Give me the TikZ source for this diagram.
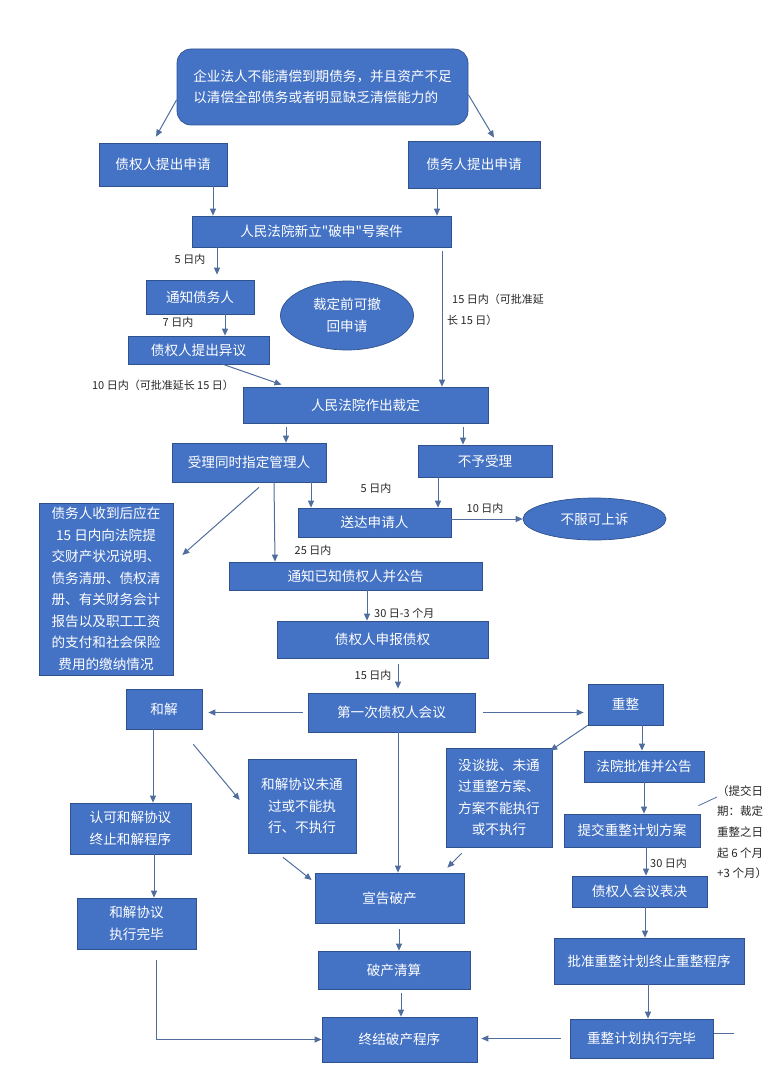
\documentclass[tikz,border=0pt]{standalone}
\usepackage{fontspec}
\setmainfont{Noto Sans CJK SC}
\newfontfamily\cjk{Noto Sans CJK SC}
\usepackage{tikz}
\usetikzlibrary{arrows.meta,shapes.geometric}
\definecolor{boxblue}{HTML}{4472C4}
\definecolor{edge}{HTML}{2F528F}
\definecolor{wire}{HTML}{4F6E9E}
\definecolor{ink}{HTML}{262626}
\tikzset{
  box/.style={draw=edge,fill=boxblue,line width=.7pt,text=white,align=center,inner sep=2pt,font=\cjk\fontsize{13.6}{21.5}\selectfont},
  roundbox/.style={box,rounded corners=14pt},
  oval/.style={box,ellipse,inner sep=0pt},
  dims/.style 2 args={minimum width=#1,minimum height=#2},
  flow/.style={-{Triangle[length=7pt,width=6pt]},draw=wire,line width=1pt},
  link/.style={draw=wire,line width=.8pt},
  note/.style={text=ink,inner sep=0pt,font=\cjk\fontsize{11}{21}\selectfont}
}
\begin{document}
\begin{tikzpicture}[x=1pt,y=-1pt]
  \useasboundingbox (0,0) rectangle (782,1089);
  \node[roundbox,dims={291}{76},align=left] (top) at (322.5,87) {企业法人不能清偿到期债务，并且资产不足\\以清偿全部债务或者明显缺乏清偿能力的};
  \node[box,dims={128}{43}] (cred) at (163,164.5) {债权人提出申请};
  \node[box,dims={132}{47}] (debt) at (474,164.5) {债务人提出申请};
  \node[box,dims={259}{31}] (case) at (321.5,231.5) {人民法院新立"破申"号案件};
  \node[box,dims={108}{34}] (notify) at (200,297) {通知债务人};
  \node[box,dims={141}{28}] (object) at (198.5,350) {债权人提出异议};
  \node[oval,dims={133}{69}] (withdraw) at (347,315.5) {裁定前可撤\\回申请};
  \node[box,dims={245}{36}] (ruling) at (365.5,405) {人民法院作出裁定};
  \node[box,dims={154}{39}] (accept) at (249,462.5) {受理同时指定管理人};
  \node[box,dims={134}{32}] (reject) at (485,461) {不予受理};
  \node[box,dims={153}{29}] (deliver) at (374.5,522.5) {送达申请人};
  \node[oval,dims={143}{42}] (appeal) at (594.5,519) {不服可上诉};
  \node[box,dims={134}{172}] (duties) at (106,589) {债务人收到后应在\\15 日内向法院提\\交财产状况说明、\\债务清册、债权清\\册、有关财务会计\\报告以及职工工资\\的支付和社会保险\\费用的缴纳情况};
  \node[box,dims={253}{28}] (announce) at (355.5,576) {通知已知债权人并公告};
  \node[box,dims={211}{37}] (claims) at (382.5,639.5) {债权人申报债权};
  \node[box,dims={167}{39}] (meeting) at (391.5,712.5) {第一次债权人会议};
  \node[box,dims={76}{40}] (settle) at (164,709) {和解};
  \node[box,dims={75}{41}] (reorg) at (625.5,704.5) {重整};
  \node[box,dims={121}{51}] (approve) at (130.5,828.5) {认可和解协议\\终止和解程序};
  \node[box,dims={108}{94}] (fail) at (302,806) {和解协议未通\\过或不能执\\行、不执行};
  \node[box,dims={106}{99}] (nodeal) at (499,797.5) {没谈拢、未通\\过重整方案、\\方案不能执行\\或不执行};
  \node[box,dims={120}{31}] (courtok) at (644,766.5) {法院批准并公告};
  \node[box,dims={136}{33}] (submit) at (632,830.5) {提交重整计划方案};
  \node[box,dims={135}{31}] (vote) at (639.5,891.5) {债权人会议表决};
  \node[box,dims={149}{50}] (declare) at (389.5,898) {宣告破产};
  \node[box,dims={119}{51}] (done) at (136.5,923.5) {和解协议\\执行完毕};
  \node[box,dims={152}{38}] (liquid) at (394,970) {破产清算};
  \node[box,dims={190}{46}] (plan) at (649,961) {批准重整计划终止重整程序};
  \node[box,dims={155}{45}] (finish) at (399.5,1039.5) {终结破产程序};
  \node[box,dims={143}{39}] (complete) at (641.5,1038.5) {重整计划执行完毕};

  \node[note] (d5a) at (190,259) {5 日内};
  \node[note] (d7) at (178,322) {7 日内};
  \node[note] (d10a) at (163,385) {10 日内（可批准延长 15 日）};
  \node[note,align=left,anchor=north west] (d15a) at (447,294) {\hspace*{5pt}15 日内（可批准延\\长 15 日）};
  \node[note] (d5b) at (376,488) {5 日内};
  \node[note] (d10b) at (485,508) {10 日内};
  \node[note] (d25) at (313,550) {25 日内};
  \node[note,anchor=west] (d30a) at (374,613) {30 日-3 个月};
  \node[note] (d15b) at (373,675) {15 日内};
  \node[note,anchor=west] (d30b) at (650,863) {30 日内};
  \node[note,align=left,anchor=north west,font=\cjk\fontsize{11.5}{20.7}\selectfont] (memo) at (717,785) {（提交日\\期：裁定\\重整之日\\起 6 个月\\+3 个月）};

  \draw[flow] (top.185) -- ([shift={(-7,-6)}]cred.north);
  \draw[flow] (top.357) -- ([shift={(20,-3)}]debt.north);
  \draw[flow] (cred.south-|213,0) -- (case.north-|213,0);
  \draw[flow] (debt.south-|437,0) -- (case.north-|437,0);
  \draw[flow,shorten >=5pt] (case.south-|217,0) -- (notify.north-|217,0);
  \draw[flow] (notify.south-|225,0) -- (object.north-|225,0);
  \draw[flow] (object.south-|223,0) -- ([shift={(-84,-2)}]ruling.north);
  \draw[flow,shorten <=4pt] (case.south-|442,0) -- (ruling.north-|442,0);
  \draw[flow,shorten <=4pt] (ruling.south-|286,0) -- (accept.north-|286,0);
  \draw[flow,shorten <=4pt] (ruling.south-|463,0) -- (reject.north-|463,0);
  \draw[flow] (accept.south-|311,0) -- (deliver.north-|311,0);
  \draw[flow] (reject.south-|438,0) -- (deliver.north-|438,0);
  \draw[flow] (accept.south-|274,0) -- (announce.north-|275,0);
  \draw[flow] ([shift={(10,5)}]accept.south) -- ([shift={(9,-34)}]duties.east);
  \draw[flow] (deliver.east|-appeal.west) -- (appeal.west);
  \draw[flow] (announce.south-|367,0) -- (claims.north-|367,0);
  \draw[flow,shorten <=6pt,shorten >=4pt] (claims.south-|398,0) -- (meeting.north-|398,0);
  \draw[flow,shorten <=5pt,shorten >=6pt] (meeting.west) -- (meeting.west-|settle.east);
  \draw[flow,shorten <=8pt,shorten >=4pt] (meeting.east) -- (meeting.east-|reorg.west);
  \draw[flow] (settle.south-|153,0) -- (approve.north-|153,0);
  \draw[flow] ([shift={(-9,15)}]settle.south east) -- ([shift={(-8,-6)}]fail.west);
  \draw[flow] (meeting.south-|398,0) -- (declare.north-|398,0);
  \draw[flow] ([shift={(-19,4)}]fail.south) -- ([shift={(-3,-18)}]declare.west);
  \draw[flow] (reorg.south west) -- ([shift={(-2,3)}]nodeal.north east);
  \draw[flow] ([shift={(16,6)}]nodeal.south west) -- ([shift={(-17,-5)}]declare.north east);
  \draw[flow] (reorg.south-|642,0) -- (courtok.north-|642,0);
  \draw[flow] (courtok.south-|644,0) -- (submit.north-|644,0);
  \draw[flow] (submit.south-|646,0) -- (vote.north-|646,0);
  \draw[flow] (vote.south-|645,0) -- (plan.north-|645,0);
  \draw[flow] (plan.south-|648,0) -- (complete.north-|648,0);
  \draw[flow] (approve.south-|154,0) -- (done.north-|154,0);
  \draw[flow,shorten <=6pt] (declare.south-|399,0) -- (liquid.north-|399,0);
  \draw[flow,shorten <=4pt] (liquid.south-|401,0) -- (finish.north-|401,0);
  \draw[flow,shorten <=11pt] (done.south-|156,0) |- (finish.west);
  \draw[flow,shorten <=9pt,shorten >=4pt] (complete.west) -- (complete.west-|finish.east);
  \draw[link] ([shift={(1,-5)}]complete.east) -- ++(20,0);
  \draw[link] ([shift={(-2,-8)}]submit.north east) -- (memo.west|-0,797);
\end{tikzpicture}
\end{document}
